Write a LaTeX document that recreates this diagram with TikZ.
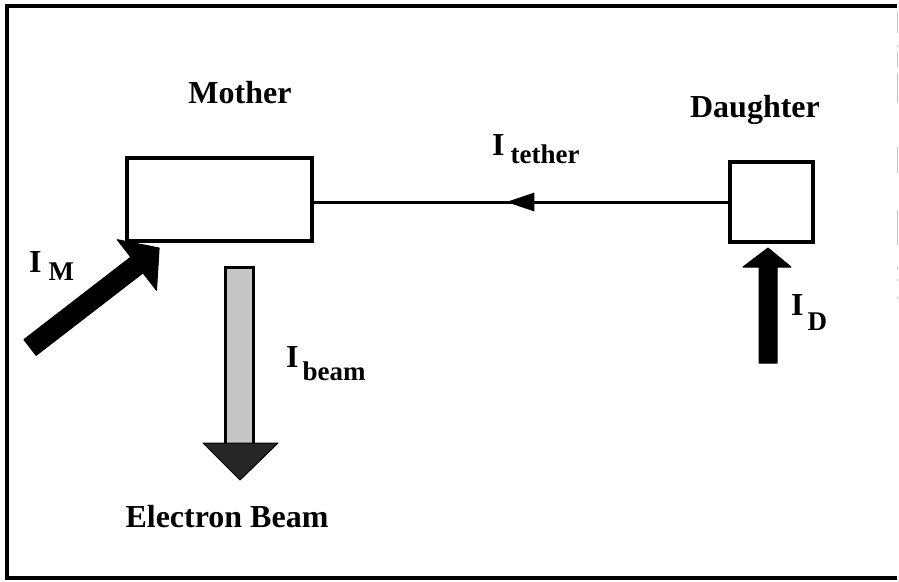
\documentclass[tikz,border=0pt]{standalone}
\usepackage{fontspec}
\setmainfont{Liberation Serif}
\usetikzlibrary{arrows.meta,decorations.markings,calc}
\newcommand{\biglab}{\fontsize{32}{38}\selectfont\bfseries}
\newcommand{\sublab}{\fontsize{27}{32}\selectfont\bfseries}
\newcommand{\curlab}[3]{{\biglab I}\hspace{#1}\raisebox{-#2}{\sublab #3}}
\begin{document}
\begin{tikzpicture}[x=1pt,y=-1pt,
  frameline/.style={line width=4pt},
  boxnode/.style={draw,line width=3.5pt,inner sep=0pt},
  bigarrow/.style={fill=black,draw=black,line width=1pt,line join=round},
  tetherline/.style={line width=3pt,postaction={decorate},
    decoration={markings,mark=at position 222pt with {\arrow{Triangle[length=28pt,width=18pt]}}}},
  title/.style={anchor=base,inner sep=0pt,font=\biglab},
  curlabel/.style={anchor=base west,inner sep=0pt}]
\useasboundingbox (0,0) rectangle (899,581);
% frame
\draw[frameline] (7,580) -- (7,6) -- (897,6);
\draw[frameline] (5,578) -- (897,578);
\foreach \a/\b in {12/33,45/47,52/67,73/103,147/173,210/245,267/270,279/281,297/299}
  \draw[gray!45,line width=1pt] (897.5,\a) -- (897.5,\b);
% boxes
\node[boxnode,minimum width=185pt,minimum height=83pt] (mother) at (219.5,199.5) {};
\node[boxnode,minimum width=83pt,minimum height=80pt] (daughter) at (771.5,202) {};
% titles
\node[title] (mlab) at (240,103) {Mother};
\node[title] (dlab) at (755,117) {Daughter};
\node[title] (elab) at (227,527) {Electron Beam};
% tether
\draw[tetherline] (daughter.west) -- (daughter.west -| mother.east);
\node[curlabel] (tlab) at (492,155) {\curlab{6pt}{8pt}{tether}};
% I_M arrow
\fill[bigarrow] (36.1,355.4) -- (23.9,339.6) -- (130.8,257.1) -- (117.3,239.7)
  -- (159.1,248.0) -- (156.5,290.3) -- (143.0,272.9) -- cycle;
\node[curlabel] (imlab) at (29,272) {\curlab{7pt}{8pt}{M}};
% beam arrow
\draw[line width=3pt,fill=gray!45] (225,267) rectangle (253,444);
\filldraw[fill=black!85,draw=black,line width=1pt,line join=round]
  (203,443) -- (278,443) -- (240,480) -- cycle;
\node[curlabel] (iblab) at (286,367) {\curlab{4pt}{13pt}{beam}};
% I_D arrow
\fill[bigarrow] (759,363) -- (759,267) -- (743,267) -- (768,248) -- (791,267)
  -- (777,267) -- (777,363) -- cycle;
\node[curlabel] (idlab) at (791,315) {\curlab{4pt}{15pt}{D}};
\end{tikzpicture}
\end{document}
